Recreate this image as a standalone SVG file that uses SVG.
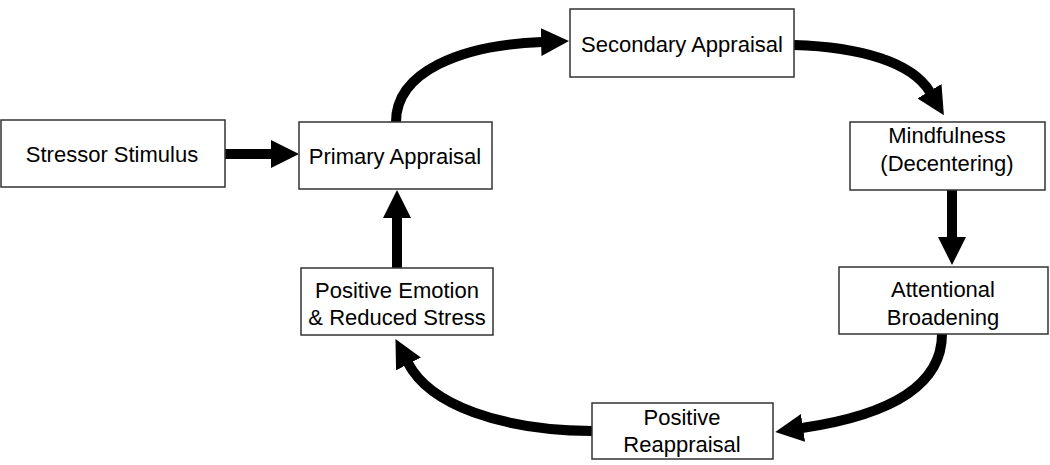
<svg xmlns="http://www.w3.org/2000/svg" width="1050" height="465" viewBox="0 0 1050 465">
<style>
.box{fill:#fff;stroke:#333;stroke-width:1.5}
.t{font-family:"Liberation Sans",Arial,sans-serif;font-size:22px;fill:#000;text-anchor:middle}
.c{fill:none;stroke:#000;stroke-width:10}
</style>
<defs>
<marker id="ah" viewBox="0 0 28 28" markerWidth="28" markerHeight="28" markerUnits="userSpaceOnUse" refX="1" refY="14" orient="auto">
<path d="M0,0 L28,14 L0,28 z" fill="#000"/>
</marker>
</defs>
<rect width="1050" height="465" fill="#fff"/>
<g id="connectors">
<path class="c" d="M225,154 L272,154" marker-end="url(#ah)"/>
<path class="c" d="M396,122 C396,72 460,45 542,42" marker-end="url(#ah)"/>
<path class="c" d="M794,45 C860,47 912,62 930,92" marker-end="url(#ah)"/>
<path class="c" d="M952,190 L952,238" marker-end="url(#ah)"/>
<path class="c" d="M942,334 C942,395 870,418 802,428" marker-end="url(#ah)"/>
<path class="c" d="M592,431 C500,430 430,405 408,363" marker-end="url(#ah)"/>
<path class="c" d="M397,268 L397,217" marker-end="url(#ah)"/>
</g>
<g id="stressor">
<rect class="box" x="1" y="120" width="224" height="67"/>
<text class="t" x="112" y="162">Stressor Stimulus</text>
</g>
<g id="primary">
<rect class="box" x="299" y="122" width="193" height="67"/>
<text class="t" x="395" y="164">Primary Appraisal</text>
</g>
<g id="secondary">
<rect class="box" x="570" y="9" width="224" height="68"/>
<text class="t" x="682" y="52">Secondary Appraisal</text>
</g>
<g id="mindfulness">
<rect class="box" x="850" y="122" width="195" height="68"/>
<text class="t" x="947" y="143">Mindfulness</text>
<text class="t" x="947" y="171">(Decentering)</text>
</g>
<g id="attentional">
<rect class="box" x="839" y="267" width="209" height="67"/>
<text class="t" x="943" y="297">Attentional</text>
<text class="t" x="943" y="325">Broadening</text>
</g>
<g id="reappraisal">
<rect class="box" x="592" y="403" width="181" height="56"/>
<text class="t" x="682" y="425">Positive</text>
<text class="t" x="682" y="452">Reappraisal</text>
</g>
<g id="emotion">
<rect class="box" x="301" y="268" width="192" height="67"/>
<text class="t" x="397" y="298">Positive Emotion</text>
<text class="t" x="397" y="325">&amp; Reduced Stress</text>
</g>
</svg>
